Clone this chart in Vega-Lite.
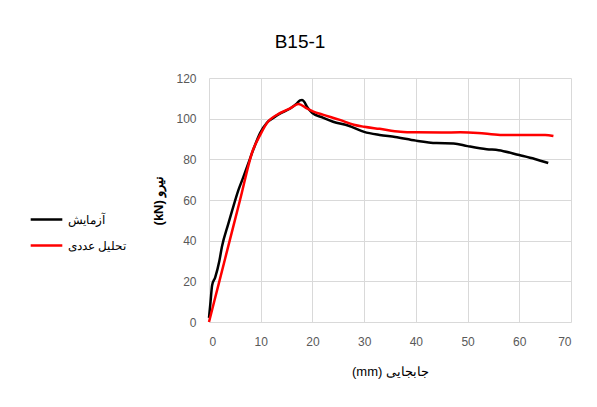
{
  "$schema": "https://vega.github.io/schema/vega-lite/v6.json",
  "width": 362,
  "height": 244,
  "autosize": "none",
  "padding": {"left": 209, "top": 78, "right": 26, "bottom": 85},
  "background": "white",
  "config": {
    "font": "Liberation Sans",
    "view": {"stroke": null},
    "axis": {"grid": true, "gridColor": "#d9d9d9", "gridWidth": 1, "domain": false, "ticks": false, "labelFontSize": 12, "labelColor": "#595959", "titleColor": "#000000", "titleFontSize": 13}
  },
  "title": {"text": "B15-1", "fontSize": 19, "fontWeight": "normal", "color": "#000000", "anchor": "middle", "dx": -90, "offset": 20},
  "data": {"values": [
    {"s": "آزمایش", "x": 0, "y": 2},
    {"s": "آزمایش", "x": 0.3, "y": 10},
    {"s": "آزمایش", "x": 0.6, "y": 18},
    {"s": "آزمایش", "x": 1.2, "y": 22},
    {"s": "آزمایش", "x": 2, "y": 30},
    {"s": "آزمایش", "x": 2.5, "y": 37},
    {"s": "آزمایش", "x": 3.7, "y": 48},
    {"s": "آزمایش", "x": 4.5, "y": 55},
    {"s": "آزمایش", "x": 5.7, "y": 65},
    {"s": "آزمایش", "x": 6.6, "y": 71},
    {"s": "آزمایش", "x": 7.6, "y": 78},
    {"s": "آزمایش", "x": 8.6, "y": 85},
    {"s": "آزمایش", "x": 9.9, "y": 93},
    {"s": "آزمایش", "x": 11.2, "y": 98},
    {"s": "آزمایش", "x": 12.5, "y": 100.5},
    {"s": "آزمایش", "x": 13.7, "y": 102.5},
    {"s": "آزمایش", "x": 15.7, "y": 105},
    {"s": "آزمایش", "x": 17, "y": 107.5},
    {"s": "آزمایش", "x": 17.6, "y": 109},
    {"s": "آزمایش", "x": 18, "y": 109.2},
    {"s": "آزمایش", "x": 18.5, "y": 108},
    {"s": "آزمایش", "x": 18.9, "y": 106},
    {"s": "آزمایش", "x": 20, "y": 102.8},
    {"s": "آزمایش", "x": 22, "y": 100.5},
    {"s": "آزمایش", "x": 24, "y": 98.5},
    {"s": "آزمایش", "x": 27, "y": 96.5},
    {"s": "آزمایش", "x": 30, "y": 93.5},
    {"s": "آزمایش", "x": 33, "y": 92},
    {"s": "آزمایش", "x": 36, "y": 91},
    {"s": "آزمایش", "x": 40, "y": 89.2},
    {"s": "آزمایش", "x": 44, "y": 88},
    {"s": "آزمایش", "x": 47.3, "y": 87.8},
    {"s": "آزمایش", "x": 50, "y": 86.5},
    {"s": "آزمایش", "x": 53.7, "y": 85},
    {"s": "آزمایش", "x": 56, "y": 84.5},
    {"s": "آزمایش", "x": 60, "y": 82.1},
    {"s": "آزمایش", "x": 63, "y": 80.2},
    {"s": "آزمایش", "x": 65.6, "y": 78.2},
    {"s": "تحلیل عددی", "x": 0, "y": 0},
    {"s": "تحلیل عددی", "x": 2, "y": 20},
    {"s": "تحلیل عددی", "x": 4, "y": 40},
    {"s": "تحلیل عددی", "x": 6, "y": 60},
    {"s": "تحلیل عددی", "x": 8.5, "y": 84.6},
    {"s": "تحلیل عددی", "x": 9.9, "y": 92},
    {"s": "تحلیل عددی", "x": 11.2, "y": 97.8},
    {"s": "تحلیل عددی", "x": 13.7, "y": 102.7},
    {"s": "تحلیل عددی", "x": 15.7, "y": 105.1},
    {"s": "تحلیل عددی", "x": 17.3, "y": 107.2},
    {"s": "تحلیل عددی", "x": 18.9, "y": 105.1},
    {"s": "تحلیل عددی", "x": 20.2, "y": 103.5},
    {"s": "تحلیل عددی", "x": 22, "y": 102},
    {"s": "تحلیل عددی", "x": 25.3, "y": 99.4},
    {"s": "تحلیل عددی", "x": 28, "y": 97},
    {"s": "تحلیل عددی", "x": 30, "y": 96},
    {"s": "تحلیل عددی", "x": 33, "y": 95},
    {"s": "تحلیل عددی", "x": 37, "y": 93.6},
    {"s": "تحلیل عددی", "x": 40, "y": 93.3},
    {"s": "تحلیل عددی", "x": 45, "y": 93.2},
    {"s": "تحلیل عددی", "x": 48.6, "y": 93.3},
    {"s": "تحلیل عددی", "x": 52, "y": 93},
    {"s": "تحلیل عددی", "x": 56.3, "y": 92},
    {"s": "تحلیل عددی", "x": 60, "y": 92},
    {"s": "تحلیل عددی", "x": 63, "y": 92},
    {"s": "تحلیل عددی", "x": 65, "y": 92},
    {"s": "تحلیل عددی", "x": 66.6, "y": 91.5}
  ]},
  "mark": {"type": "line", "strokeWidth": 2.5, "interpolate": "monotone"},
  "encoding": {
    "x": {"field": "x", "type": "quantitative", "scale": {"domain": [0, 70], "nice": false},
      "axis": {"values": [0, 10, 20, 30, 40, 50, 60, 70], "title": "(mm) جابجایی", "labelPadding": 14, "titlePadding": 18, "titleFontWeight": "normal"}},
    "y": {"field": "y", "type": "quantitative", "scale": {"domain": [0, 120], "nice": false},
      "axis": {"values": [0, 20, 40, 60, 80, 100, 120], "title": "(kN) نیرو", "labelPadding": 13, "titlePadding": 10, "titleFontWeight": "bold"}},
    "color": {"field": "s", "type": "nominal",
      "scale": {"domain": ["آزمایش", "تحلیل عددی"], "range": ["#000000", "#ff0000"]},
      "legend": {"title": null, "orient": "none", "legendX": -180, "legendY": 124, "padding": 0, "symbolType": "stroke", "symbolSize": 1000, "symbolStrokeWidth": 2.5, "rowPadding": 2, "labelFontSize": 12, "labelColor": "#000000", "labelOffset": 4}}
  }
}
